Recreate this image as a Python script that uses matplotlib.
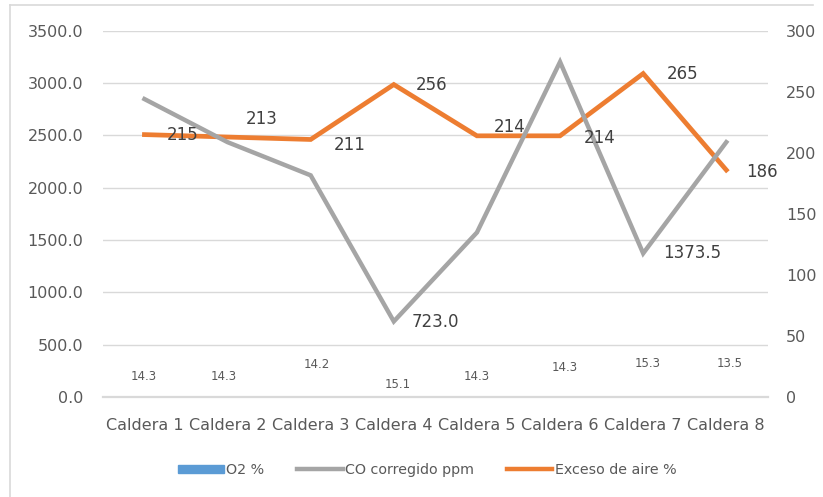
import matplotlib
matplotlib.use("Agg")
import matplotlib.pyplot as plt
from matplotlib.patches import Rectangle
from matplotlib.lines import Line2D

plt.rcParams['font.family'] = ['DejaVu Sans']

categories = ["Caldera 1", "Caldera 2", "Caldera 3", "Caldera 4",
              "Caldera 5", "Caldera 6", "Caldera 7", "Caldera 8"]
o2 = [14.3, 14.3, 14.2, 15.1, 14.3, 14.3, 15.3, 13.5]
co = [2848, 2436, 2119, 723.0, 1573, 3203, 1373.5, 2436]
exceso = [215, 213, 211, 256, 214, 214, 265, 186]

left_ticks = [0, 500, 1000, 1500, 2000, 2500, 3000, 3500]
right_ticks = [0, 50, 100, 150, 200, 250, 300]

BLUE = "#5B9BD5"
GRAY = "#A5A5A5"
ORANGE = "#ED7D31"
TXT = "#595959"
LBL = "#404040"
GRID = "#D9D9D9"

fig = plt.figure(figsize=(8.23, 4.97), dpi=100)
ax = fig.add_axes([0.125, 0.201, 0.808, 0.737])
ax2 = ax.twinx()

x = list(range(len(categories)))

ax.set_xlim(-0.5, len(categories) - 0.5)
ax.set_ylim(0, 3500)
ax2.set_ylim(0, 300)

ax.bar(x, o2, width=0.55, color=BLUE, zorder=1)
ax2.plot(x, exceso, color=ORANGE, lw=3.4, zorder=3, solid_joinstyle='miter')
# CO on the left-axis scale, drawn above the orange line
ax2.plot(x, co, color=GRAY, lw=3.2, zorder=4, solid_joinstyle='miter',
         transform=ax.transData)

ax.set_yticks(left_ticks)
ax.set_yticklabels([f"{v:.1f}" for v in left_ticks])
ax2.set_yticks(right_ticks)
ax2.set_yticklabels([str(v) for v in right_ticks])
ax.set_xticks(x)
ax.set_xticklabels(categories)

ax.grid(axis='y', color=GRID, lw=1, zorder=0)
ax.set_axisbelow(True)
for a in (ax, ax2):
    for s in a.spines.values():
        s.set_visible(False)
    a.tick_params(length=0, colors=TXT, labelsize=11.5)
ax.spines['bottom'].set_visible(True)
ax.spines['bottom'].set_color(GRID)
ax.spines['bottom'].set_linewidth(1.6)
ax.spines['bottom'].set_zorder(2.5)
ax.tick_params(axis='y', pad=14)
ax.tick_params(axis='x', pad=15)
ax2.tick_params(axis='y', pad=13)

# O2 labels (small, placed near the bottom)
o2_offsets = [19, 19, 31, 11, 19, 28, 32, 32]
o2_dx = [-1, -4, 6, 4, 0, 5, 4, 3]
for xi, v, dy, dx in zip(x, o2, o2_offsets, o2_dx):
    ax.annotate(f"{v:.1f}", (xi, v), xytext=(dx, dy), textcoords='offset pixels',
                ha='center', va='center', fontsize=8.5, color=TXT, zorder=10)

# Exceso labels
ex_off = [(38, 0), (34, 18), (39, -6), (38, 0), (33, 9), (40, -2), (39, 0), (36, -2)]
for xi, v, (dx, dy) in zip(x, exceso, ex_off):
    ax2.annotate(str(v), (xi, v), xytext=(dx, dy), textcoords='offset pixels',
                 ha='center', va='center', fontsize=12, color=LBL, zorder=10)

# CO labels (only two shown)
ax2.annotate(f"{co[3]:.1f}", (x[3], co[3]), xycoords=ax.transData, xytext=(18, -1),
             textcoords='offset pixels', ha='left', va='center', fontsize=12,
             color=LBL, zorder=10)
ax2.annotate(f"{co[6]:.1f}", (x[6], co[6]), xycoords=ax.transData, xytext=(20, 0),
             textcoords='offset pixels', ha='left', va='center', fontsize=12,
             color=LBL, zorder=10)

handles = [Rectangle((0, 0), 1, 1, color=BLUE),
           Line2D([0], [0], color=GRAY, lw=3.2),
           Line2D([0], [0], color=ORANGE, lw=3.2)]
fig.legend(handles, ["O2 %", "CO corregido ppm", "Exceso de aire %"],
           loc='center', bbox_to_anchor=(427 / 823, 1 - 470 / 497), ncol=3,
           frameon=False, fontsize=10.3, labelcolor=TXT, handlelength=3.2,
           handleheight=0.55, handletextpad=0.15, columnspacing=2.3)

# chart frame (top and left edges visible in the crop)
fig.add_artist(Line2D([10 / 823, 813 / 823], [1 - 5 / 497, 1 - 5 / 497],
                      transform=fig.transFigure, color=GRID, lw=1.2))
fig.add_artist(Line2D([10 / 823, 10 / 823], [0, 1 - 5 / 497],
                      transform=fig.transFigure, color=GRID, lw=1.2))

fig.savefig("out.png", dpi=100)
